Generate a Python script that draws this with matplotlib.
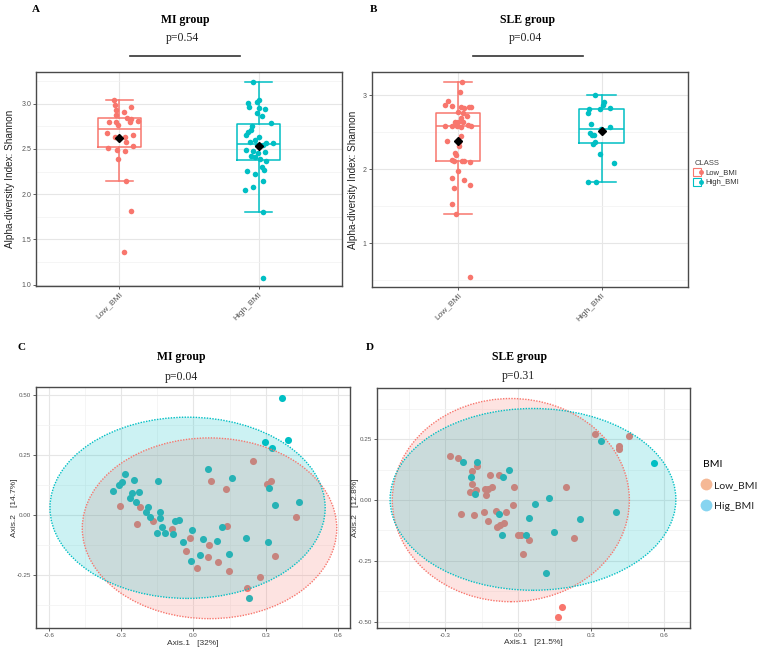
import numpy as np
import matplotlib
matplotlib.use("Agg")
import matplotlib.pyplot as plt
from matplotlib.patches import Ellipse
from matplotlib.lines import Line2D
from matplotlib.legend_handler import HandlerTuple

# ---------------- data ----------------
categories = ["Low_BMI", "High_BMI"]
RED = "#F8766D"
TEAL = "#00BFC4"

# Panel A (MI group) alpha diversity
A_low_y = [3.037, 2.985, 2.926, 2.963, 2.907, 2.878, 2.833, 2.841, 2.793, 2.796,
           2.811, 2.796, 2.767, 2.678, 2.630, 2.637, 2.650, 2.574, 2.537, 2.511,
           2.489, 2.481, 2.385, 2.141, 1.811, 1.359]
A_low_dx = [-0.036, -0.029, -0.022, 0.082, 0.031, -0.024, 0.086, 0.053, -0.077, -0.026,
            0.134, 0.077, -0.007, -0.089, -0.029, 0.043, 0.096, 0.048, 0.096, -0.082,
            -0.019, 0.041, -0.007, 0.046, 0.082, 0.036]
A_high_y = [3.241, 3.007, 3.044, 3.015, 2.963, 2.956, 2.941, 2.896, 2.863, 2.789,
            2.752, 2.711, 2.685, 2.659, 2.630, 2.600, 2.574, 2.563, 2.563, 2.548,
            2.548, 2.489, 2.481, 2.470, 2.456, 2.426, 2.407, 2.389, 2.370, 2.296,
            2.267, 2.252, 2.222, 2.148, 2.074, 2.044, 1.807, 1.074]
A_high_dx = [-0.043, -0.077, 0.005, -0.012, -0.070, 0.005, 0.048, -0.014, 0.022, 0.091,
             -0.048, -0.053, -0.077, -0.089, 0.005, -0.022, -0.062, 0.055, 0.101, -0.012,
             0.029, -0.091, -0.041, 0.048, -0.005, -0.053, -0.022, 0.012, 0.053, 0.024,
             0.036, -0.086, -0.024, 0.031, -0.043, -0.096, 0.031, 0.031]

# Panel B (SLE group) alpha diversity
B_low_y = [3.184, 3.049, 2.928, 2.861, 2.870, 2.847, 2.847, 2.847, 2.825, 2.771,
           2.757, 2.726, 2.694, 2.645, 2.636, 2.636, 2.600, 2.591, 2.591, 2.582,
           2.582, 2.569, 2.456, 2.389, 2.366, 2.312, 2.218, 2.187, 2.128, 2.106,
           2.119, 2.119, 2.097, 1.984, 1.881, 1.849, 1.791, 1.746, 1.535, 1.391, 0.542]
B_low_dx = [0.030, 0.016, -0.070, -0.039, -0.093, 0.023, 0.093, 0.077, 0.046, -0.002,
            0.039, 0.063, 0.019, -0.023, 0.002, 0.039, 0.070, -0.039, -0.090, -0.005,
            0.088, 0.021, 0.023, -0.077, 0.009, 0.005, -0.021, -0.016, -0.044, -0.030,
            0.030, 0.046, 0.081, 0.000, -0.039, 0.046, 0.081, -0.030, -0.039, -0.014, 0.081]
B_high_y = [3.009, 2.910, 2.874, 2.829, 2.811, 2.811, 2.766, 2.578, 2.618, 2.542,
            2.492, 2.470, 2.461, 2.371, 2.344, 2.204, 2.088, 1.822, 1.831]
B_high_dx = [-0.044, 0.014, 0.007, 0.058, -0.009, -0.086, -0.093, 0.056, -0.074, -0.005,
             -0.079, -0.063, -0.051, -0.046, -0.056, -0.014, 0.088, -0.097, -0.039]

# Panel C (MI group) PCoA
C_high_x = [0.368, 0.299, 0.394, 0.328, 0.061, 0.160, 0.313, 0.337, 0.438, -0.285,
            -0.295, -0.307, -0.335, -0.245, -0.145, -0.256, -0.227, -0.263, -0.238, -0.189,
            -0.198, -0.180, -0.138, -0.138, -0.076, -0.058, -0.131, -0.149, -0.118, -0.086,
            -0.007, -0.041, 0.039, 0.097, 0.118, 0.217, 0.310, -0.010, 0.029, 0.147, 0.230]
C_high_y = [0.484, 0.304, 0.313, 0.277, 0.192, 0.155, 0.112, 0.040, 0.055, 0.172,
            0.138, 0.124, 0.100, 0.144, 0.140, 0.090, 0.097, 0.072, 0.055, 0.035,
            0.014, -0.007, 0.014, -0.011, -0.025, -0.022, -0.048, -0.073, -0.076, -0.077,
            -0.061, -0.113, -0.100, -0.107, -0.048, -0.094, -0.111, -0.191, -0.166, -0.163, -0.344]
C_low_x = [0.248, 0.075, 0.134, 0.321, 0.304, -0.306, -0.220, -0.169, -0.232, -0.089,
           0.141, -0.012, 0.064, -0.032, 0.059, 0.014, 0.104, 0.149, 0.277, 0.340, 0.426, 0.224]
C_low_y = [0.225, 0.141, 0.107, 0.141, 0.127, 0.036, 0.032, -0.024, -0.036, -0.058,
           -0.047, -0.094, -0.126, -0.149, -0.174, -0.219, -0.195, -0.231, -0.256, -0.169, -0.007, -0.303]
# ellipses: center x, center y, half-width, half-height  (Low, High)
C_ell_low = [0.067, -0.055, 0.528, 0.375]
C_ell_high = [-0.024, 0.030, 0.571, 0.376]

# Panel D (SLE group) PCoA
D_low_x = [0.316, 0.453, 0.415, 0.415, -0.281, -0.247, -0.168, -0.192, -0.118, -0.078,
           -0.189, -0.107, -0.138, -0.125, -0.197, -0.175, -0.132, -0.019, 0.195, -0.022,
           -0.236, -0.182, -0.141, -0.092, -0.051, -0.126, -0.088, -0.077, -0.059, -0.003,
           0.012, 0.045, 0.021, 0.230, 0.178, 0.164]
D_low_y = [0.274, 0.265, 0.222, 0.210, 0.182, 0.173, 0.140, 0.119, 0.102, 0.102,
           0.066, 0.055, 0.047, 0.047, 0.032, 0.040, 0.019, 0.052, 0.052, -0.019,
           -0.059, -0.063, -0.047, -0.043, -0.048, -0.085, -0.112, -0.103, -0.093, -0.144,
           -0.144, -0.163, -0.221, -0.156, -0.439, -0.483]
D_high_x = [-0.229, -0.168, -0.196, -0.062, -0.038, -0.178, -0.081, -0.066, 0.033, 0.044,
            0.068, 0.127, 0.148, 0.255, 0.112, 0.400, 0.338, 0.559]
D_high_y = [0.155, 0.155, 0.095, 0.095, 0.123, 0.026, -0.056, -0.144, -0.144, -0.075,
            -0.014, 0.008, -0.130, -0.077, -0.298, -0.051, 0.244, 0.151]
D_ell_low = [-0.031, 0.0, 0.487, 0.418]
D_ell_high = [0.060, 0.003, 0.587, 0.374]

# ---------------- figure ----------------
W, H = 767, 649
fig = plt.figure(figsize=(W / 100, H / 100), dpi=100)
SANS = ["Liberation Sans", "DejaVu Sans"]
SERIF = ["Liberation Serif", "DejaVu Serif"]


def rect(x0, y0, x1, y1):
    return [x0 / W, 1 - y1 / H, (x1 - x0) / W, (y1 - y0) / H]


def fpt(px, py):
    return px / W, 1 - py / H


def style_axes(ax):
    for s in ax.spines.values():
        s.set_color("#4a4a4a")
        s.set_linewidth(1.0)
    ax.grid(which="major", color="#e6e6e6", lw=0.8, zorder=0)
    ax.grid(which="minor", color="#f2f2f2", lw=0.5, zorder=0)
    ax.set_axisbelow(True)
    ax.tick_params(which="major", length=2, width=0.6, color="#444444",
                   labelcolor="#555555", pad=1.5)
    ax.tick_params(which="minor", length=0)


def box_panel(ax, ys, dxs, ylim, yticks, yticklabels, yminor):
    for i, (yv, dx, c) in enumerate(zip(ys, dxs, [RED, TEAL])):
        pos = i + 1
        yv = np.array(yv)
        ax.boxplot([yv], positions=[pos], widths=0.31, showfliers=False, capwidths=0.2,
                   manage_ticks=False,
                   boxprops=dict(color=c, lw=1.1), whiskerprops=dict(color=c, lw=1.1),
                   capprops=dict(color=c, lw=1.1), medianprops=dict(color=c, lw=1.1))
        ax.scatter(pos + np.array(dx), yv, s=16, color=c, lw=0, zorder=3)
        ax.plot([pos], [yv.mean()], marker="D", color="black", ms=4.4, zorder=5, ls="")
    ax.set_xlim(0.4, 2.6)
    ax.set_ylim(*ylim)
    ax.set_xticks([1, 2])
    ax.set_xticklabels(categories, rotation=45, ha="right", rotation_mode="anchor",
                       fontsize=6, family=SANS)
    ax.set_yticks(yticks)
    ax.set_yticklabels(yticklabels, fontsize=5, family=SANS)
    ax.set_yticks(yminor, minor=True)
    ax.set_ylabel("Alpha-diversity Index: Shannon", fontsize=7.2, family=SANS, color="#222222")
    style_axes(ax)


# Panel A
axA = fig.add_axes(rect(36, 72, 342, 286))
box_panel(axA, [A_low_y, A_high_y], [A_low_dx, A_high_dx], (0.985, 3.35),
          [1.0, 1.5, 2.0, 2.5, 3.0], ["1.0", "1.5", "2.0", "2.5", "3.0"],
          [1.25, 1.75, 2.25, 2.75, 3.25])
axA.yaxis.set_label_coords(-0.07, 0.5)

# Panel B
axB = fig.add_axes(rect(371.7, 72, 687.7, 287))
box_panel(axB, [B_low_y, B_high_y], [B_low_dx, B_high_dx], (0.41, 3.315),
          [1, 2, 3], ["1", "2", "3"], [0.5, 1.5, 2.5])
axB.yaxis.set_label_coords(-0.043, 0.5)


def pcoa_panel(ax, lowx, lowy, highx, highy, ell_low, ell_high, xlim, ylim,
               xticks, xtl, yticks, ytl, xminor, yminor, xlabel, ylabel):
    ax.scatter(lowx, lowy, s=26, color=RED, lw=0, zorder=3)
    ax.scatter(highx, highy, s=26, color=TEAL, lw=0, zorder=3)
    for e, c in [(ell_low, RED), (ell_high, TEAL)]:
        ax.add_patch(Ellipse((e[0], e[1]), 2 * e[2], 2 * e[3], facecolor=c, alpha=0.2,
                             edgecolor="none", zorder=4))
        ax.add_patch(Ellipse((e[0], e[1]), 2 * e[2], 2 * e[3], facecolor="none",
                             edgecolor=c, lw=1.0, ls=(0, (1, 1)), zorder=5))
    ax.set_xlim(*xlim)
    ax.set_ylim(*ylim)
    ax.set_xticks(xticks)
    ax.set_xticklabels(xtl, fontsize=4.5, family=SANS)
    ax.set_yticks(yticks)
    ax.set_yticklabels(ytl, fontsize=4.5, family=SANS)
    ax.set_xticks(xminor, minor=True)
    ax.set_yticks(yminor, minor=True)
    ax.set_xlabel(xlabel, fontsize=6, family=SANS, color="#333333", labelpad=1)
    ax.set_ylabel(ylabel, fontsize=6, family=SANS, color="#333333", labelpad=2)
    style_axes(ax)


axC = fig.add_axes(rect(36, 387.3, 350, 628.3))
pcoa_panel(axC, C_low_x, C_low_y, C_high_x, C_high_y, C_ell_low, C_ell_high,
           (-0.653, 0.65), (-0.47, 0.53),
           [-0.6, -0.3, 0.0, 0.3, 0.6], ["-0.6", "-0.3", "0.0", "0.3", "0.6"],
           [-0.25, 0.0, 0.25, 0.5], ["-0.25", "0.00", "0.25", "0.50"],
           [-0.45, -0.15, 0.15, 0.45], [-0.375, -0.125, 0.125, 0.375],
           "Axis.1   [32%]", "Axis.2   [14.7%]")
axC.yaxis.set_label_coords((18 - 36) / 314, 0.5)

axD = fig.add_axes(rect(376.7, 388.3, 690, 627.7))
pcoa_panel(axD, D_low_x, D_low_y, D_high_x, D_high_y, D_ell_low, D_ell_high,
           (-0.582, 0.705), (-0.525, 0.46),
           [-0.3, 0.0, 0.3, 0.6], ["-0.3", "0.0", "0.3", "0.6"],
           [-0.5, -0.25, 0.0, 0.25], ["-0.50", "-0.25", "0.00", "0.25"],
           [-0.45, -0.15, 0.15, 0.45], [-0.375, -0.125, 0.125, 0.375],
           "Axis.1   [21.5%]", "Axis.2   [12.8%]")
axD.yaxis.set_label_coords((359 - 376.7) / 313.3, 0.5)

# ---------------- titles / annotations ----------------
for lab, (px, py) in [("A", (36, 10)), ("B", (373, 10)), ("C", (22, 347)), ("D", (370, 347))]:
    fig.text(*fpt(px, py), lab, fontsize=8, fontweight="bold", family=SERIF,
             ha="center", va="center")
for txt, (px, py) in [("MI group", (185, 19.5)), ("SLE group", (527.5, 19.5)),
                      ("MI group", (181.5, 357)), ("SLE group", (520, 357))]:
    fig.text(*fpt(px, py), txt, fontsize=8.5, fontweight="bold", family=SERIF,
             ha="center", va="center")
for txt, (px, py) in [("p=0.54", (182, 38.5)), ("p=0.04", (525, 38.5)),
                      ("p=0.04", (181.5, 377)), ("p=0.31", (518.5, 376))]:
    fig.text(*fpt(px, py), txt, fontsize=8.5, family=SERIF, ha="center", va="center",
             color="#222222")
for x0, x1 in [(129.5, 239.5), (472.5, 582.5)]:
    fig.add_artist(Line2D([x0 / W, x1 / W], [1 - 56 / H, 1 - 56 / H], color="#333333", lw=1.2))

# legend B
hB = [(Line2D([], [], marker="s", mfc="none", mec=c, ms=6, ls="", mew=0.8),
       Line2D([], [], marker="o", color=c, ms=2.5, ls="")) for c in [RED, TEAL]]
legB = fig.legend(hB, categories, title="CLASS", loc="upper left",
                  bbox_to_anchor=(692 / W, 1 - 157 / H), frameon=False,
                  handler_map={tuple: HandlerTuple(ndivide=None, pad=0)},
                  prop=dict(family=SANS, size=5.5), title_fontproperties=dict(family=SANS, size=5.5),
                  handlelength=1.0, handletextpad=0.4, labelspacing=0.3, alignment="left",
                  borderaxespad=0)
for t in legB.get_texts():
    t.set_color("#333333")
legB.get_title().set_color("#444444")

# legend D
hD = [Line2D([], [], marker="o", mfc=c, mec="none", ms=8.5, ls="") for c in ["#F5B895", "#86D4F0"]]
legD = fig.legend(hD, ["Low_BMI", "Hig_BMI"], title="BMI", loc="upper left",
                  bbox_to_anchor=(699 / W, 1 - 456 / H), frameon=False,
                  prop=dict(family=["Lato", "DejaVu Sans"], size=7.5),
                  title_fontproperties=dict(family=["Lato", "DejaVu Sans"], size=7.5),
                  handlelength=0.6, handletextpad=0.4, labelspacing=1.1, alignment="left",
                  borderaxespad=0)
for t in legD.get_texts():
    t.set_color("#222222")

fig.savefig("out.png", dpi=100, facecolor="white")
